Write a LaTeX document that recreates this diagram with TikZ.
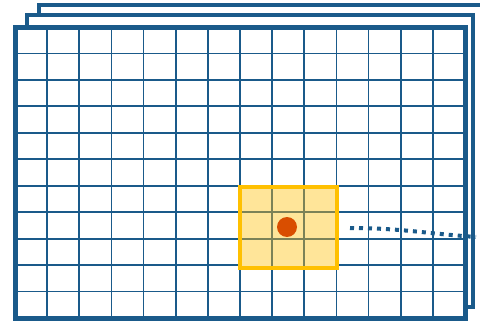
\documentclass[tikz,border=0pt]{standalone}
\usetikzlibrary{positioning}
\definecolor{gridblue}{HTML}{1A5A8A}
\definecolor{amber}{HTML}{FFC000}
\definecolor{cream}{HTML}{FFE599}
\definecolor{olive}{HTML}{7C8257}
\definecolor{rust}{HTML}{D94E00}

\begin{document}
\begin{tikzpicture}[x=1pt, y=-1pt,
      sheet/.style={draw=gridblue, line width=4pt, fill=white},
      frontsheet/.style={draw=gridblue, line width=5pt},
      gridline/.style={gridblue, line width=1.8pt},
      window/.style={draw=amber, line width=4pt},
      pixel/.style={circle, fill=rust, minimum size=20pt, inner sep=0pt},
      link/.style={gridblue, line width=4pt, dash pattern=on 4pt off 5pt}]
    \useasboundingbox (0,0) rectangle (480,324);
    % stacked sheets behind
    \draw[sheet] (39,290) -- (39,5) -- (500,5);
    \draw[sheet] (27,15) rectangle (473,307);
    \fill[white] (15,27) rectangle (465,318);
    % grid of the front sheet
    \foreach \i in {1,...,13}
      \draw[gridline] ({15+\i*450/14},27) -- ({15+\i*450/14},318);
    \foreach \j in {1,...,10}
      \draw[gridline] (15,{27+\j*291/11}) -- (465,{27+\j*291/11});
    % 3x3 window
    \fill[cream] (240,187) rectangle (337,268);
    \foreach \i in {8,9}
      \draw[olive, line width=1.8pt] ({15+\i*450/14},187) -- ({15+\i*450/14},268);
    \foreach \j in {7,8}
      \draw[olive, line width=1.8pt] (240,{27+\j*291/11}) -- (337,{27+\j*291/11});
    \draw[window] (240,187) rectangle (337,268);
    \draw[frontsheet] (15,27) rectangle (465,318);
    \node[pixel] (centre) at (287,227) {};
    \coordinate (from) at (350,228);
    \coordinate (to) at (476,237);
    \draw[link] (from) to[out=0, in=176] (to);
  \end{tikzpicture}
\end{document}
